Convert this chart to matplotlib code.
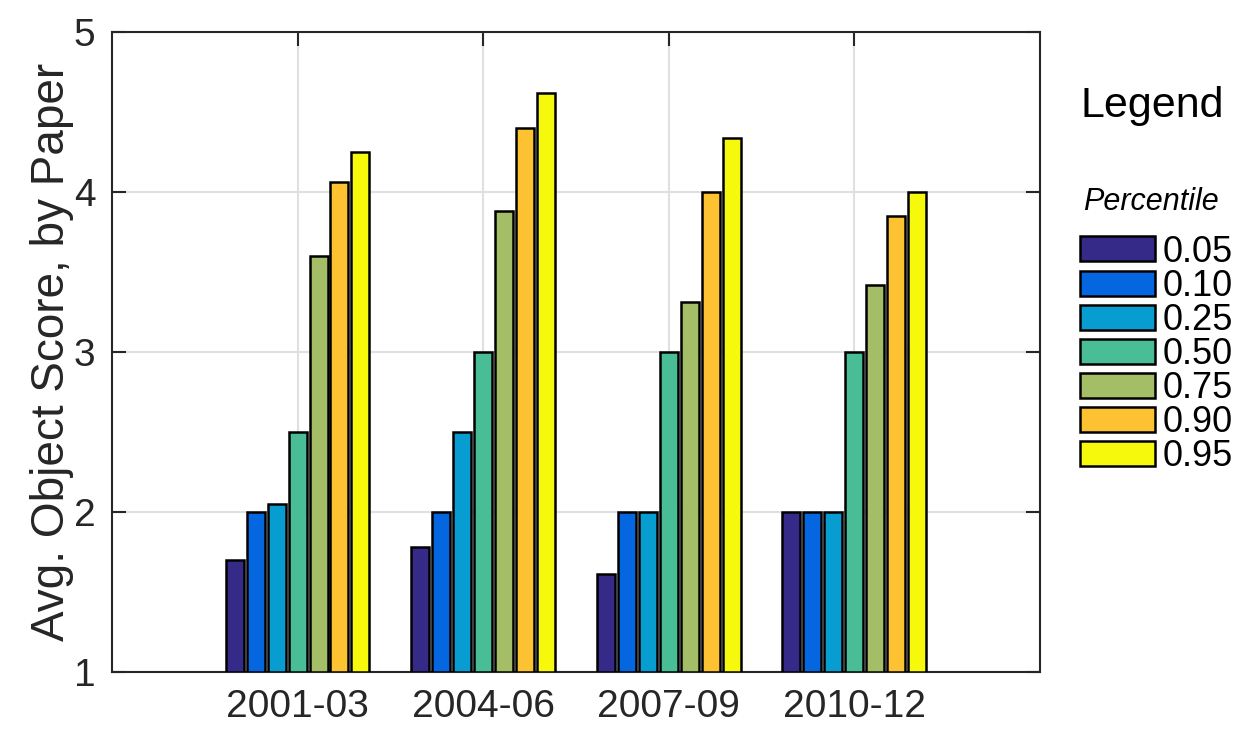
import numpy as np
import matplotlib.pyplot as plt

periods = ['2001-03', '2004-06', '2007-09', '2010-12']
percentiles = ['0.05', '0.10', '0.25', '0.50', '0.75', '0.90', '0.95']
# rows: percentile, cols: period
scores = [
    [1.70, 1.78, 1.61, 2.00],
    [2.00, 2.00, 2.00, 2.00],
    [2.05, 2.50, 2.00, 2.00],
    [2.50, 3.00, 3.00, 3.00],
    [3.60, 3.88, 3.31, 3.42],
    [4.06, 4.40, 4.00, 3.85],
    [4.25, 4.62, 4.34, 4.00],
]
colors = ['#352a87', '#0567e0', '#089dd0', '#48bd96', '#a4be68', '#fdc232', '#f6f90c']

plt.rcParams['font.family'] = ['Liberation Sans', 'DejaVu Sans']

fig = plt.figure(figsize=(12.55, 7.44), dpi=100)
ax = fig.add_axes([0.0892, 0.0968, 0.7394, 0.8602])

x = np.arange(1, len(periods) + 1)
pitch = 0.113
for i, (p, vals) in enumerate(zip(percentiles, scores)):
    ax.bar(x + (i - 3) * pitch, np.array(vals) - 1, bottom=1, width=0.097,
           color=colors[i], edgecolor='black', linewidth=1.8, label=p, zorder=3)

ax.set_xlim(0, 5)
ax.set_ylim(1, 5)
ax.set_xticks(x)
ax.set_xticklabels(periods)
ax.set_yticks([1, 2, 3, 4, 5])
ax.grid(True, color='#e0e0e0', linewidth=1.5, zorder=0)
ax.set_axisbelow(True)
ax.tick_params(direction='in', length=10, width=1.5, top=True, right=True,
               labelsize=28, colors='#262626', pad=12)
for s in ax.spines.values():
    s.set_linewidth(1.5)
    s.set_color('#262626')
ax.set_ylabel('Avg. Object Score, by Paper', fontsize=33, color='#262626', labelpad=0)

fig.text(0.9179, 0.857, 'Legend', fontsize=31, ha='center', va='center')
fig.text(0.917, 0.7285, 'Percentile', fontsize=22, style='italic', ha='center', va='center')
leg = ax.legend(loc='upper left', bbox_to_anchor=(1.0276, 0.706), frameon=False,
                fontsize=26, handlelength=2.08, handleheight=0.69,
                handletextpad=0.22, labelspacing=-0.025, borderaxespad=0)

fig.savefig('out.png', dpi=100)
